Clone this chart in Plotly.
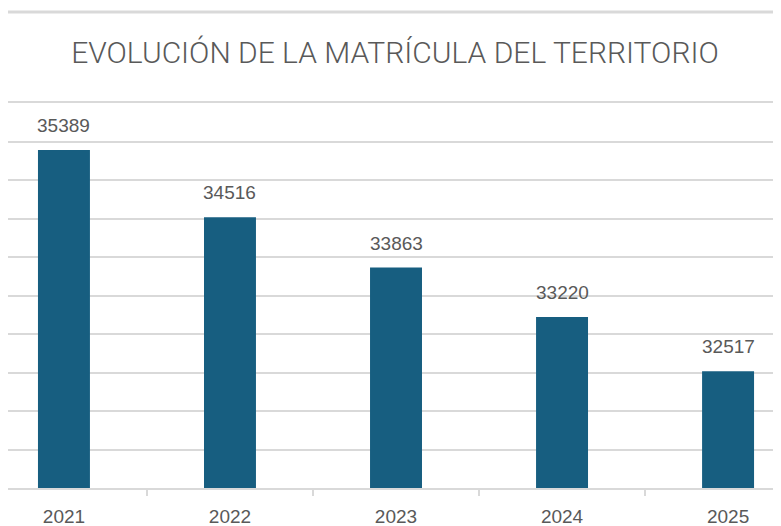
"""Bar chart: evolución de la matrícula del territorio."""

import plotly.graph_objects as go

years = ["2021", "2022", "2023", "2024", "2025"]
matricula = [35389, 34516, 33863, 33220, 32517]

BAR_COLOR = "#175e80"
GRID_COLOR = "#d9d9d9"
TEXT_COLOR = "#595959"

fig = go.Figure()

fig.add_trace(go.Bar(
    x=years,
    y=matricula,
    width=0.313,
    marker=dict(color=BAR_COLOR, line=dict(width=0)),
    hovertemplate="%{x}: %{y}<extra></extra>",
))

# value labels above the bars (x given as category index, "2021" would be read as a number)
for i, value in enumerate(matricula):
    fig.add_annotation(
        x=i, y=value, text=str(value),
        showarrow=False, yanchor="bottom", yshift=12,
        font=dict(family="Liberation Sans", size=19, color=TEXT_COLOR),
    )

# grey rule at the top of the card
fig.add_shape(
    type="line", xref="paper", yref="paper",
    x0=0, x1=1, y0=1 + 91 / 385, y1=1 + 91 / 385,
    line=dict(color=GRID_COLOR, width=3),
)

fig.update_layout(
    width=781,
    height=526,
    title=dict(
        text="EVOLUCIÓN DE LA MATRÍCULA DEL TERRITORIO",
        x=0.4955, xanchor="center",
        y=1 - 44 / 526, yanchor="middle", yref="container",
        font=dict(family="Roboto", size=30, color=TEXT_COLOR, weight=300),
    ),
    paper_bgcolor="white",
    plot_bgcolor="white",
    showlegend=False,
    margin=dict(t=95, b=46, l=0, r=0, autoexpand=False),
    xaxis=dict(
        type="category",
        range=[-0.337, 4.367],
        showgrid=False,
        showline=True,
        mirror=True,  # top edge line stands in for the 36000 gridline
        linecolor=GRID_COLOR,
        linewidth=2,
        ticks="outside",
        tickson="boundaries",
        ticklen=6,
        tickcolor=GRID_COLOR,
        tickwidth=1.5,
        ticklabelstandoff=10,
        tickfont=dict(family="Liberation Sans", size=19, color=TEXT_COLOR),
    ),
    yaxis=dict(
        range=[31000, 36000],
        tick0=31000,
        dtick=500,
        showgrid=True,
        gridcolor=GRID_COLOR,
        gridwidth=1.5,
        showticklabels=False,
        zeroline=False,
    ),
)

fig.write_html("out.html")
